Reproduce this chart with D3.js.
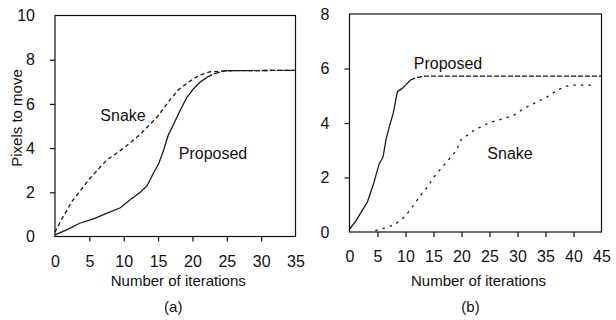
<!DOCTYPE html>
<html>
<head>
<meta charset="utf-8">
<script src="https://cdn.jsdelivr.net/npm/d3@7"></script>
<style>
  body { margin: 0; background: #fff; }
  svg text { font-family: Arial, "Liberation Sans", sans-serif; fill: #111; }
</style>
</head>
<body>
<svg id="chart" width="616" height="320"></svg>
<script>
"use strict";

// (a) values: [iteration, pixels]
var snakeA = [[0,0.2],[1,0.8],[2.5,1.6],[5,2.6],[7.5,3.45],[10,4.0],[12.5,4.65],[15,5.45],[16.5,6.1],
  [18,6.65],[19.5,7.0],[21,7.3],[22.5,7.45],[25,7.5],[35,7.52]];
var proposedA = [[0,0.07],[1.7,0.3],[3.6,0.6],[5.6,0.8],[7.5,1.05],[9.5,1.3],[10.9,1.65],[12.4,2.0],[13.4,2.3],
  [14.3,2.85],[15.1,3.3],[15.8,3.9],[16.5,4.6],[17.3,5.1],[18.2,5.7],[19.2,6.3],[20.2,6.7],[21.1,6.98],
  [22.1,7.2],[23.1,7.36],[24.3,7.47],[25,7.5],[35,7.52]];

// (b)
var proposedB = [[0,0.1],[1.2,0.43],[2.3,0.8],[3.2,1.1],[3.8,1.47],[4.4,1.84],[4.8,2.14],[5.3,2.5],[6,2.76],
  [6.5,3.37],[7.1,3.86],[7.8,4.35],[8.55,5.15],[9.4,5.27],[10,5.39],[10.9,5.58],[12.1,5.67],[13.6,5.72],[45,5.72]];
var snakeB = [[4.6,0.05],[6.3,0.15],[8.1,0.27],[9.9,0.57],[11.1,0.88],[12.5,1.3],[14,1.67],[14.9,1.98],
  [16.4,2.34],[17.9,2.7],[19.1,3.0],[19.9,3.38],[21.1,3.56],[22.3,3.74],[24.1,3.93],[25.6,4.05],[27.6,4.17],
  [29.4,4.29],[31.2,4.54],[33.6,4.78],[35.3,4.96],[37.1,5.2],[38.6,5.35],[40.1,5.39],[43.3,5.39]];

var xTicksA = [0, 5, 10, 15, 20, 25, 30, 35];
var yTicksA = [0, 2, 4, 6, 8, 10];
var xTicksB = [0, 5, 10, 15, 20, 25, 30, 35, 40, 45];
var yTicksB = [0, 2, 4, 6, 8];

var svg = d3.select("#chart");

function drawPanel(opt) {
  var x = d3.scaleLinear().domain(opt.xDomain).range(opt.xRange);
  var y = d3.scaleLinear().domain(opt.yDomain).range(opt.yRange);
  var g = svg.append("g");

  // frame
  g.append("rect")
    .attr("x", opt.xRange[0]).attr("y", opt.yRange[1])
    .attr("width", opt.xRange[1] - opt.xRange[0])
    .attr("height", opt.yRange[0] - opt.yRange[1])
    .attr("fill", "none").attr("stroke", "#111").attr("stroke-width", 1.2);

  var xAxis = g.append("g")
    .attr("transform", "translate(0," + opt.yRange[0] + ")")
    .call(d3.axisBottom(x).tickValues(opt.xTicks).tickSize(5).tickPadding(14).tickSizeOuter(0));
  var yAxis = g.append("g")
    .attr("transform", "translate(" + opt.xRange[0] + ",0)")
    .call(d3.axisLeft(y).tickValues(opt.yTicks).tickSize(5).tickPadding(15).tickSizeOuter(0));

  [xAxis, yAxis].forEach(function (a) {
    a.select(".domain").remove();
    a.selectAll("line").attr("stroke", "#111").attr("stroke-width", 1.2);
    a.selectAll(".tick").filter(function (d, i, n) { return i === 0 || i === n.length - 1; })
      .select("line").remove();
    a.selectAll("text").attr("font-size", "16px").attr("fill", "#111")
      .style("font-family", "Arial, 'Liberation Sans', sans-serif");
  });

  var line = d3.line().x(function (d) { return x(d[0]); }).y(function (d) { return y(d[1]); });

  opt.series.forEach(function (s) {
    var solid = s.data.filter(function (d) { return d[0] <= s.solidUntil; });
    var rest = solid.length ? s.data.filter(function (d) { return d[0] >= solid[solid.length - 1][0]; }) : s.data;
    if (solid.length > 1) {
      g.append("path").attr("d", line(solid)).attr("fill", "none")
        .attr("stroke", "#1a1a1a").attr("stroke-width", 1.3);
    }
    if (rest.length > 1) {
      g.append("path").attr("d", line(rest)).attr("fill", "none")
        .attr("stroke", "#1a1a1a").attr("stroke-width", 1.3)
        .attr("stroke-dasharray", s.dash);
    }
  });

  opt.labels.forEach(function (l) {
    g.append("text").attr("x", l.x).attr("y", l.y).attr("dy", "0.35em")
      .attr("text-anchor", "middle").attr("font-size", "16px").text(l.text);
  });

  var midX = (opt.xRange[0] + opt.xRange[1]) / 2;
  g.append("text").attr("x", midX + 3).attr("y", 281).attr("dy", "0.35em")
    .attr("text-anchor", "middle").attr("font-size", "15px").text("Number of iterations");
  g.append("text").attr("x", midX + opt.captionShift).attr("y", 307).attr("dy", "0.35em")
    .attr("text-anchor", "middle").attr("font-size", "15px").text(opt.caption);

  if (opt.yTitle) {
    g.append("text").attr("transform", "translate(17,118) rotate(-90)").attr("dy", "0.35em")
      .attr("text-anchor", "middle").attr("font-size", "15px").text(opt.yTitle);
  }
}

drawPanel({
  xDomain: [0, 35], xRange: [55, 295.5],
  yDomain: [0, 10], yRange: [236.5, 15.5],
  xTicks: xTicksA, yTicks: yTicksA,
  series: [
    { data: snakeA, solidUntil: -1, dash: "4,3" },
    { data: proposedA, solidUntil: 22.1, dash: "6,2" }
  ],
  labels: [
    { text: "Snake", x: 123, y: 115 },
    { text: "Proposed", x: 213, y: 153 }
  ],
  caption: "(a)", captionShift: -2,
  yTitle: "Pixels to move"
});

drawPanel({
  xDomain: [0, 45], xRange: [349.5, 601.5],
  yDomain: [0, 8], yRange: [232, 14],
  xTicks: xTicksB, yTicks: yTicksB,
  series: [
    { data: proposedB, solidUntil: 10.9, dash: "5,2" },
    { data: snakeB, solidUntil: -1, dash: "2.5,5" }
  ],
  labels: [
    { text: "Proposed", x: 448, y: 63 },
    { text: "Snake", x: 510, y: 153 }
  ],
  caption: "(b)", captionShift: -5
});
</script>
</body>
</html>
